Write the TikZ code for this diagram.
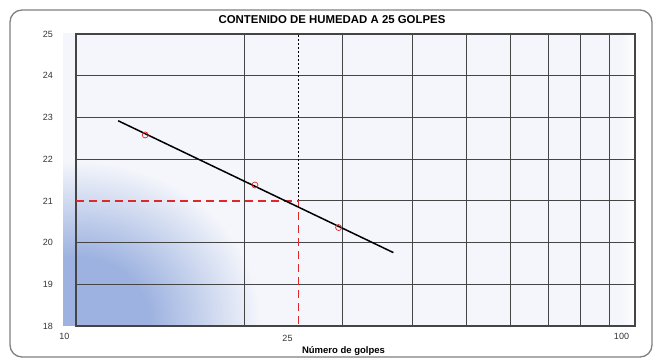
\documentclass[tikz,border=0pt]{standalone}
\usepackage{fontspec}
\setmainfont{Liberation Sans}
\usetikzlibrary{positioning}
\definecolor{gridgray}{HTML}{454545}
\definecolor{plotbg}{HTML}{F4F6FB}
\definecolor{fadeblue}{HTML}{9DB2E0}
\definecolor{dashred}{HTML}{E0282A}
\pgfdeclareradialshading{bluefade}{\pgfpoint{0bp}{0bp}}{color(0bp)=(fadeblue); color(10bp)=(fadeblue); color(25bp)=(plotbg); color(50bp)=(plotbg)}

\begin{document}
\begin{tikzpicture}[x=1pt,y=1pt,
    grid/.style={gridgray, line width=1.1pt},
    tick/.style={font=\fontsize{9}{10}\selectfont, text=black!80, inner sep=0pt},
    reddash/.style={dashred, line width=1.5pt, dash pattern=on 8pt off 5pt},
    sample/.style={draw=dashred, line width=0.7pt, circle, inner sep=0pt, minimum size=6pt}]
  \useasboundingbox (0,0) rectangle (654,361);
  \draw[gray, line width=1.3pt, rounded corners=12pt] (10,4) rectangle (652,351);
  \fill[plotbg] (63,35) rectangle (621,328);
  \shade[left color=plotbg, right color=white] (621,35) rectangle (635,328);
  \begin{scope}
    \clip (63,35) rectangle (635,328);
    \shade[shading=bluefade] (75,40) ellipse (185 and 160);
  \end{scope}
  \node[font=\fontsize{11.4}{12}\selectfont\bfseries] (title) at (332,341) {CONTENIDO DE HUMEDAD A 25 GOLPES};
  \begin{scope}[shift={(76,35)}, x=559pt, y=41.71pt]
    % grid
    \foreach \v in {19,20,22,23,24}
      \draw[grid] (0,\v-18) -- (1,\v-18);
    \draw[grid] ({log10(25)-1},3) -- (1,3);
    \foreach \v in {20,30,...,90}
      \draw[grid] ({log10(\v)-1},0) -- ({log10(\v)-1},7);
    \draw[grid] (0,0) rectangle (1,7);
    \draw[black, line width=0.7pt, dash pattern=on 2pt off 2pt] ({log10(25)-1},3) -- ({log10(25)-1},7);
    \draw[reddash] (0,3) -- ({log10(25)-1},3) -- ({log10(25)-1},0);
    % ajuste
    \draw[black, line width=1.5pt] ({log10(11.9)-1},4.92) -- ({log10(36.96)-1},1.76);
    \node[sample] (p1) at ({log10(13.3)-1},4.58) {};
    \node[sample] (p2) at ({log10(20.9)-1},3.38) {};
    \node[sample] (p3) at ({log10(29.5)-1},2.36) {};
    \foreach \v in {18,...,25}
      \node[tick, left=23pt] (y\v) at (0,\v-18) {\v};
  \end{scope}
  \node[tick] (x10) at (64.5,24.5) {10};
  \node[tick] (x25) at (287.5,22.5) {25};
  \node[tick] (x100) at (621.5,24.5) {100};
  \node[font=\fontsize{9.5}{10}\selectfont\bfseries] (xlabel) at (343.5,10) {Número de golpes};
\end{tikzpicture}
\end{document}
